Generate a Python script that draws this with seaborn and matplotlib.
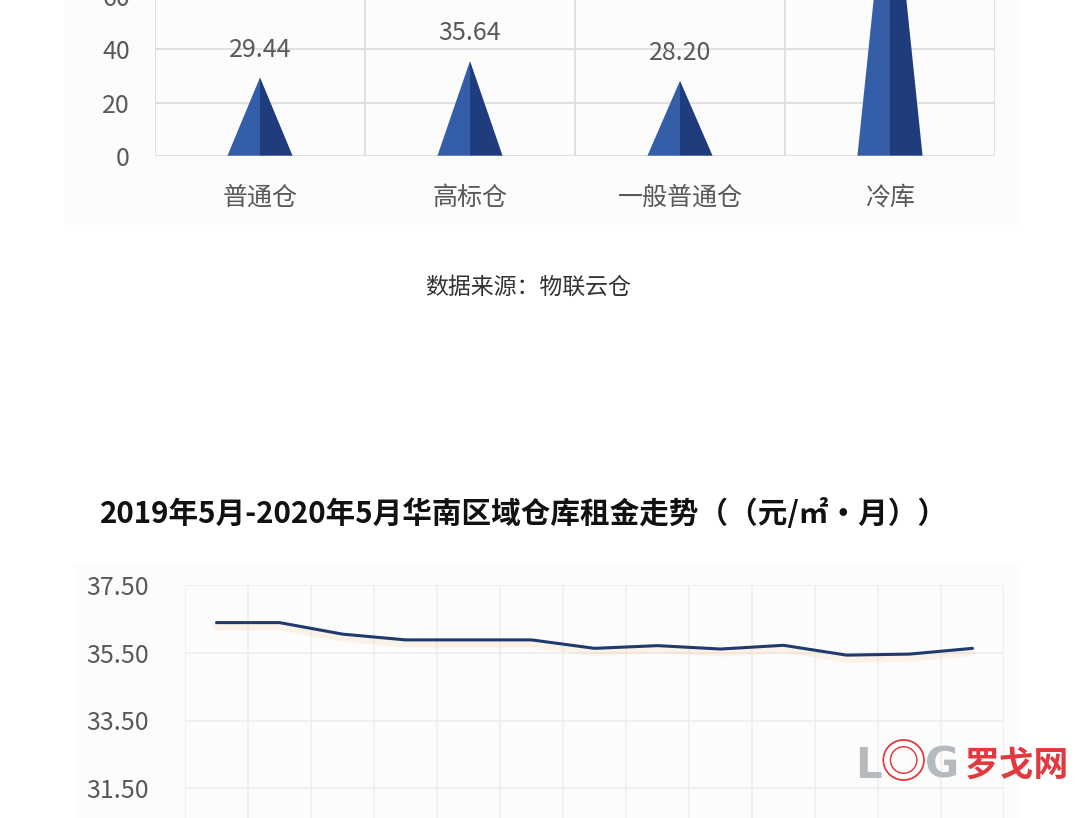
import numpy as np
import pandas as pd
import seaborn as sns
import matplotlib.pyplot as plt
import matplotlib.patheffects as pe
from matplotlib.patches import Rectangle, Polygon

# data: warehouse rent by type (top, cut off) and South China monthly trend (bottom)
categories = ['普通仓', '高标仓', '一般普通仓', '冷库']
rents = [29.44, 35.64, 28.20, 118.0]

months = ['2019-05', '2019-06', '2019-07', '2019-08', '2019-09', '2019-10', '2019-11',
          '2019-12', '2020-01', '2020-02', '2020-03', '2020-04', '2020-05']
south_rent = [36.39, 36.39, 36.05, 35.88, 35.88, 35.88, 35.63,
              35.71, 35.61, 35.72, 35.43, 35.46, 35.63]

sns.set_style('white')
plt.rcParams['font.family'] = ['Noto Sans CJK SC', 'DejaVu Sans']

W, H = 1080, 818
fig = plt.figure(figsize=(10.8, 8.18), dpi=100)
fig.patch.set_facecolor('white')

# faint panels behind the two charts
fig.patches.append(Rectangle((65 / W, 1 - 225 / H), 955 / W, 225 / H, transform=fig.transFigure,
                             facecolor='#fcfcfc', edgecolor='none', zorder=-5))
fig.patches.append(Rectangle((75 / W, 0), 945 / W, (818 - 565) / H, transform=fig.transFigure,
                             facecolor='#fcfcfc', edgecolor='none', zorder=-5))

tick_color = '#595959'
grid_color = '#dddddd'

# --- top chart: triangle "bars" ---
ax1 = fig.add_axes([155 / W, 1 - 155.7 / H, 840 / W, 319 / H])
ax1.set_facecolor('none')
df_top = pd.DataFrame({'type': categories, 'rent': rents})
sns.barplot(data=df_top, x='type', y='rent', ax=ax1, width=0.31, errorbar=None, color='#2f5597')
for patch in list(ax1.patches):
    x0, w, h = patch.get_x(), patch.get_width(), patch.get_height()
    patch.set_visible(False)
    mid = x0 + w / 2
    ax1.add_patch(Polygon([(x0, 0), (mid, h), (mid, 0)], closed=True,
                          facecolor='#355ea9', edgecolor='none', zorder=3))
    ax1.add_patch(Polygon([(mid, 0), (mid, h), (x0 + w, 0)], closed=True,
                          facecolor='#1f3d7c', edgecolor='none', zorder=3))
    ax1.annotate(f'{h:.2f}', xy=(mid, h), xytext=(0, 20), textcoords='offset points',
                 ha='center', va='center', fontsize=18, color=tick_color)

ax1.set_xlim(-0.5, len(categories) - 0.5)
ax1.set_ylim(0, 120)
ax1.set_yticks(np.arange(0, 61, 20))
ax1.set_xticks(np.arange(-0.5, len(categories), 1.0), minor=True)
ax1.grid(True, axis='y', color=grid_color, lw=1.3)
ax1.grid(True, axis='x', which='minor', color=grid_color, lw=1.3)
ax1.set_axisbelow(True)
ax1.set_xlabel('')
ax1.set_ylabel('')
for s in ax1.spines.values():
    s.set_visible(False)
ax1.tick_params(axis='both', which='both', length=0, labelsize=18, labelcolor=tick_color)
ax1.tick_params(axis='x', pad=21)
ax1.tick_params(axis='y', pad=18)

fig.text(528 / W, 1 - 287 / H, '数据来源：物联云仓', ha='center', va='center',
         fontsize=16.5, color='#333333')

# --- bottom chart: monthly rent trend ---
fig.text(100 / W, 1 - 513 / H, '2019年5月-2020年5月华南区域仓库租金走势（（元/㎡•月））',
         ha='left', va='center', fontsize=21.3, fontweight='bold', color='#111111')

ax2 = fig.add_axes([185 / W, 1 - 856 / H, 819 / W, 271 / H])
ax2.set_facecolor('none')
df_line = pd.DataFrame({'idx': np.arange(len(months)), 'rent': south_rent})
sns.lineplot(data=df_line, x='idx', y='rent', ax=ax2, color='#1f3a6e', lw=2.2,
             path_effects=[pe.SimpleLineShadow(offset=(0, -3), shadow_color='#f2b870', alpha=0.15,
                                               linewidth=5),
                           pe.Normal()])
ax2.set_xlim(-0.5, len(months) - 0.5)
ax2.set_ylim(29.5, 37.5)
ax2.set_yticks([37.5, 35.5, 33.5, 31.5])
ax2.set_yticklabels([f'{v:.2f}' for v in [37.5, 35.5, 33.5, 31.5]])
ax2.set_xticks(np.arange(len(months)))
ax2.set_xticklabels(months)
ax2.set_xticks(np.arange(-0.5, len(months), 1.0), minor=True)
ax2.grid(True, axis='y', color='#ededed', lw=1.1)
ax2.grid(True, axis='x', which='minor', color='#ededed', lw=1.1)
ax2.set_axisbelow(True)
ax2.set_xlabel('')
ax2.set_ylabel('')
for s in ax2.spines.values():
    s.set_visible(False)
ax2.tick_params(axis='both', which='both', length=0, labelsize=18, labelcolor=tick_color)
ax2.tick_params(axis='x', labelbottom=False)
ax2.tick_params(axis='y', pad=26)

# watermark logo
fig.text(855 / W, 1 - 766 / H, 'L', ha='left', va='center', fontsize=30, fontweight='bold',
         color='#b5babe', family=['DejaVu Sans'])
fig.text(903 / W, 1 - 765 / H, '◎', ha='center', va='center', fontsize=34,
         color='#e03a3e')
fig.text(925 / W, 1 - 766 / H, 'G', ha='left', va='center', fontsize=30, fontweight='bold',
         color='#b5babe', family=['DejaVu Sans'])
fig.text(965 / W, 1 - 765 / H, '罗戈网', ha='left', va='center', fontsize=25, fontweight='bold',
         color='#e03a3e')

fig.savefig('out.png', dpi=100)
